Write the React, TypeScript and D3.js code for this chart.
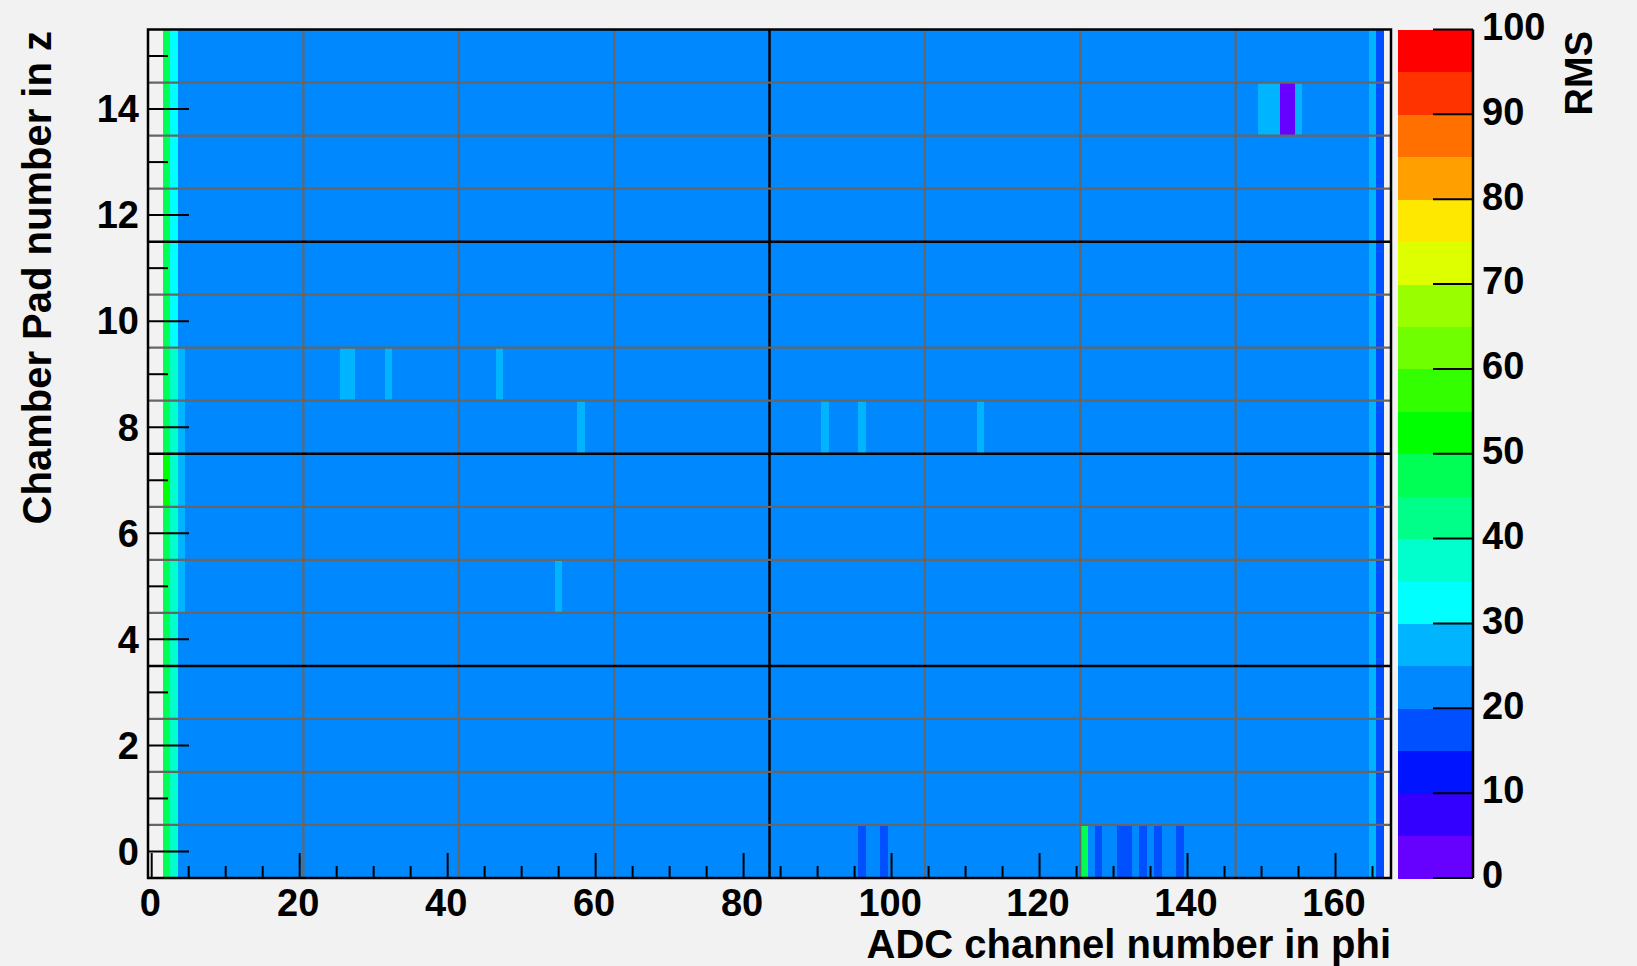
import React from 'react';
import * as d3 from 'd3';

// ---------------- data ----------------
const N_CHANNELS = 168;
const N_PADS = 16;
const BASE_RMS = 22;
const EMPTY_CHANNELS = [0, 1, 167];

// per-pad (pad 0 .. 15) RMS of the edge channels
const ch2Rms = [47, 47, 47, 47, 47, 47, 47, 52, 47, 47, 47, 47, 47, 47, 47, 47];
const ch3Rms = [37, 37, 37, 37, 37, 37, 37, 37, 37, 37, 32, 32, 32, 32, 32, 32];
const ch4Rms = [22, 22, 22, 22, 22, 27, 27, 27, 27, 27, 22, 22, 22, 22, 22, 22];
const ch165Rms = [27, 27, 27, 27, 27, 27, 27, 27, 27, 27, 27, 27, 27, 27, 27, 27];
const ch166Rms = [17, 17, 17, 17, 17, 17, 17, 17, 17, 17, 17, 17, 17, 17, 17, 17];

// individual cells that differ from the baseline: [pad, channel, rms]
const hotCells: [number, number, number][] = [
  [14, 150, 27], [14, 151, 27], [14, 152, 27], [14, 153, 3], [14, 154, 3], [14, 155, 27],
  [9, 26, 27], [9, 27, 27], [9, 32, 27], [9, 47, 27],
  [8, 58, 27], [8, 91, 27], [8, 96, 27], [8, 112, 27],
  [5, 55, 27],
  [0, 96, 17], [0, 99, 17], [0, 126, 47], [0, 128, 17], [0, 131, 17], [0, 132, 17],
  [0, 134, 17], [0, 136, 17], [0, 139, 17],
];

const xTickValues = [0, 20, 40, 60, 80, 100, 120, 140, 160];
const xMinorTicks = [5, 10, 15, 25, 30, 35, 45, 50, 55, 65, 70, 75, 85, 90, 95, 105, 110, 115, 125, 130, 135, 145, 150, 155, 165];
const yTickValues = [0, 2, 4, 6, 8, 10, 12, 14];
const yMinorTicks = [1, 3, 5, 7, 9, 11, 13, 15];
const zTickValues = [0, 10, 20, 30, 40, 50, 60, 70, 80, 90, 100];
const gridX = [20.5, 41.5, 62.5, 83.5, 104.5, 125.5, 146.5];
const gridXMajor = [83.5];
const gridY = [0.5, 1.5, 2.5, 3.5, 4.5, 5.5, 6.5, 7.5, 8.5, 9.5, 10.5, 11.5, 12.5, 13.5, 14.5];
const gridYMajor = [3.5, 7.5, 11.5];

const palette = [
  '#6600ff', '#3300ff', '#0014ff', '#0050ff', '#0088ff',
  '#00b4ff', '#00ffff', '#00ffcc', '#00ff88', '#00ff55',
  '#00ff00', '#33ff00', '#6fff00', '#99ff00', '#ddff00',
  '#ffe800', '#ffa000', '#ff7000', '#ff3300', '#ff0000',
];

const xTitle = 'ADC channel number in phi';
const yTitle = 'Chamber Pad number in z';
const zTitle = 'RMS';

// ---------------- layout ----------------
const W = 1637;
const H = 966;
const FL = 148, FR = 1391, FT = 29.5, FB = 878;
const CB_L = 1398, CB_R = 1473;
const FONT = '"Liberation Sans", Arial, Helvetica, sans-serif';
const FS = 38;
const TFS = 40;
const BG = '#f2f2f2';

export default function App() {
  const x = d3.scaleLinear().domain([-0.5, N_CHANNELS - 0.5]).range([FL, FR]);
  const y = d3.scaleLinear().domain([-0.5, N_PADS - 0.5]).range([FB, FT]);
  const z = d3.scaleLinear().domain([0, 100]).range([FB, FT]);
  const color = d3.scaleQuantize<string>().domain([0, 100]).range(palette);

  // build matrix
  const matrix: (number | null)[][] = d3.range(N_PADS).map((p) =>
    d3.range(N_CHANNELS).map((c) => {
      if (EMPTY_CHANNELS.includes(c)) return null;
      if (c === 2) return ch2Rms[p];
      if (c === 3) return ch3Rms[p];
      if (c === 4) return ch4Rms[p];
      if (c === 165) return ch165Rms[p];
      if (c === 166) return ch166Rms[p];
      return BASE_RMS;
    })
  );
  hotCells.forEach(([p, c, v]) => {
    matrix[p][c] = v;
  });

  const cells: { p: number; c: number; v: number }[] = [];
  matrix.forEach((row, p) =>
    row.forEach((v, c) => {
      if (v !== null) cells.push({ p, c, v });
    })
  );

  const bands = d3.range(palette.length).map((i) => ({ lo: i * 5, hi: i * 5 + 5, col: palette[i] }));

  return (
    <div style={{ position: 'absolute', left: 0, top: 0, width: W, height: H, background: BG }}>
      <svg width={W} height={H} style={{ display: 'block' }} fontFamily={FONT} fontWeight="bold">
        <rect x={0} y={0} width={W} height={H} fill={BG} />
        {/* cells */}
        <g shapeRendering="crispEdges">
          {cells.map((d, i) => (
            <rect
              key={i}
              x={x(d.c - 0.5)}
              y={y(d.p + 0.5)}
              width={x(d.c + 0.5) - x(d.c - 0.5) + 0.4}
              height={y(d.p - 0.5) - y(d.p + 0.5) + 0.4}
              fill={color(d.v)}
            />
          ))}
        </g>
        {/* grid */}
        <g>
          {gridX.map((g) => (
            <line key={'gx' + g} x1={x(g)} x2={x(g)} y1={FT} y2={FB}
              stroke={gridXMajor.includes(g) ? '#000' : '#666'} strokeWidth={gridXMajor.includes(g) ? 2.5 : 2.2} />
          ))}
          {gridY.map((g) => (
            <line key={'gy' + g} x1={FL} x2={FR} y1={y(g)} y2={y(g)}
              stroke={gridYMajor.includes(g) ? '#000' : '#666'} strokeWidth={gridYMajor.includes(g) ? 2.5 : 2.2} />
          ))}
        </g>
        {/* ticks */}
        <g stroke="#000" strokeWidth={2}>
          {xTickValues.map((t) => (
            <line key={'xt' + t} x1={x(t)} x2={x(t)} y1={FB} y2={FB - 25} />
          ))}
          {xMinorTicks.map((t) => (
            <line key={'xm' + t} x1={x(t)} x2={x(t)} y1={FB} y2={FB - 12} />
          ))}
          {yTickValues.map((t) => (
            <line key={'yt' + t} x1={FL} x2={FL + 41} y1={y(t)} y2={y(t)} />
          ))}
          {yMinorTicks.map((t) => (
            <line key={'ym' + t} x1={FL} x2={FL + 20} y1={y(t)} y2={y(t)} />
          ))}
        </g>
        {/* frame */}
        <rect x={FL} y={FT} width={FR - FL} height={FB - FT} fill="none" stroke="#000" strokeWidth={2.5} />
        {/* tick labels */}
        <g fontSize={FS} fill="#000">
          {xTickValues.map((t) => (
            <text key={'xl' + t} x={x(t) - 1.5} y={916} textAnchor="middle">{t}</text>
          ))}
          {yTickValues.map((t) => (
            <text key={'yl' + t} x={139} y={y(t) + FS * 0.35} textAnchor="end">{t}</text>
          ))}
        </g>
        {/* axis titles */}
        <text x={FR} y={958} textAnchor="end" fontSize={TFS}>{xTitle}</text>
        <text transform={`translate(51, 31) rotate(-90)`} textAnchor="end" fontSize={TFS}>{yTitle}</text>

        {/* colour bar */}
        <g shapeRendering="crispEdges">
          {bands.map((b) => (
            <rect key={'b' + b.lo} x={CB_L} y={z(b.hi)} width={CB_R - CB_L} height={z(b.lo) - z(b.hi) + 0.5} fill={b.col} />
          ))}
        </g>
        <line x1={CB_R} x2={CB_R} y1={FT} y2={FB} stroke="#000" strokeWidth={2.5} />
        <g stroke="#000" strokeWidth={2}>
          {zTickValues.map((t) => (
            <line key={'zt' + t} x1={CB_R - 40} x2={CB_R} y1={z(t)} y2={z(t)} />
          ))}
        </g>
        <g fontSize={FS} fill="#000">
          {zTickValues.map((t) => (
            <text key={'zl' + t} x={1482} y={z(t) - 3 + FS * 0.35} textAnchor="start">{t}</text>
          ))}
        </g>
        <text transform={`translate(1592, 31) rotate(-90)`} textAnchor="end" fontSize={FS}>{zTitle}</text>
      </svg>
    </div>
  );
}
